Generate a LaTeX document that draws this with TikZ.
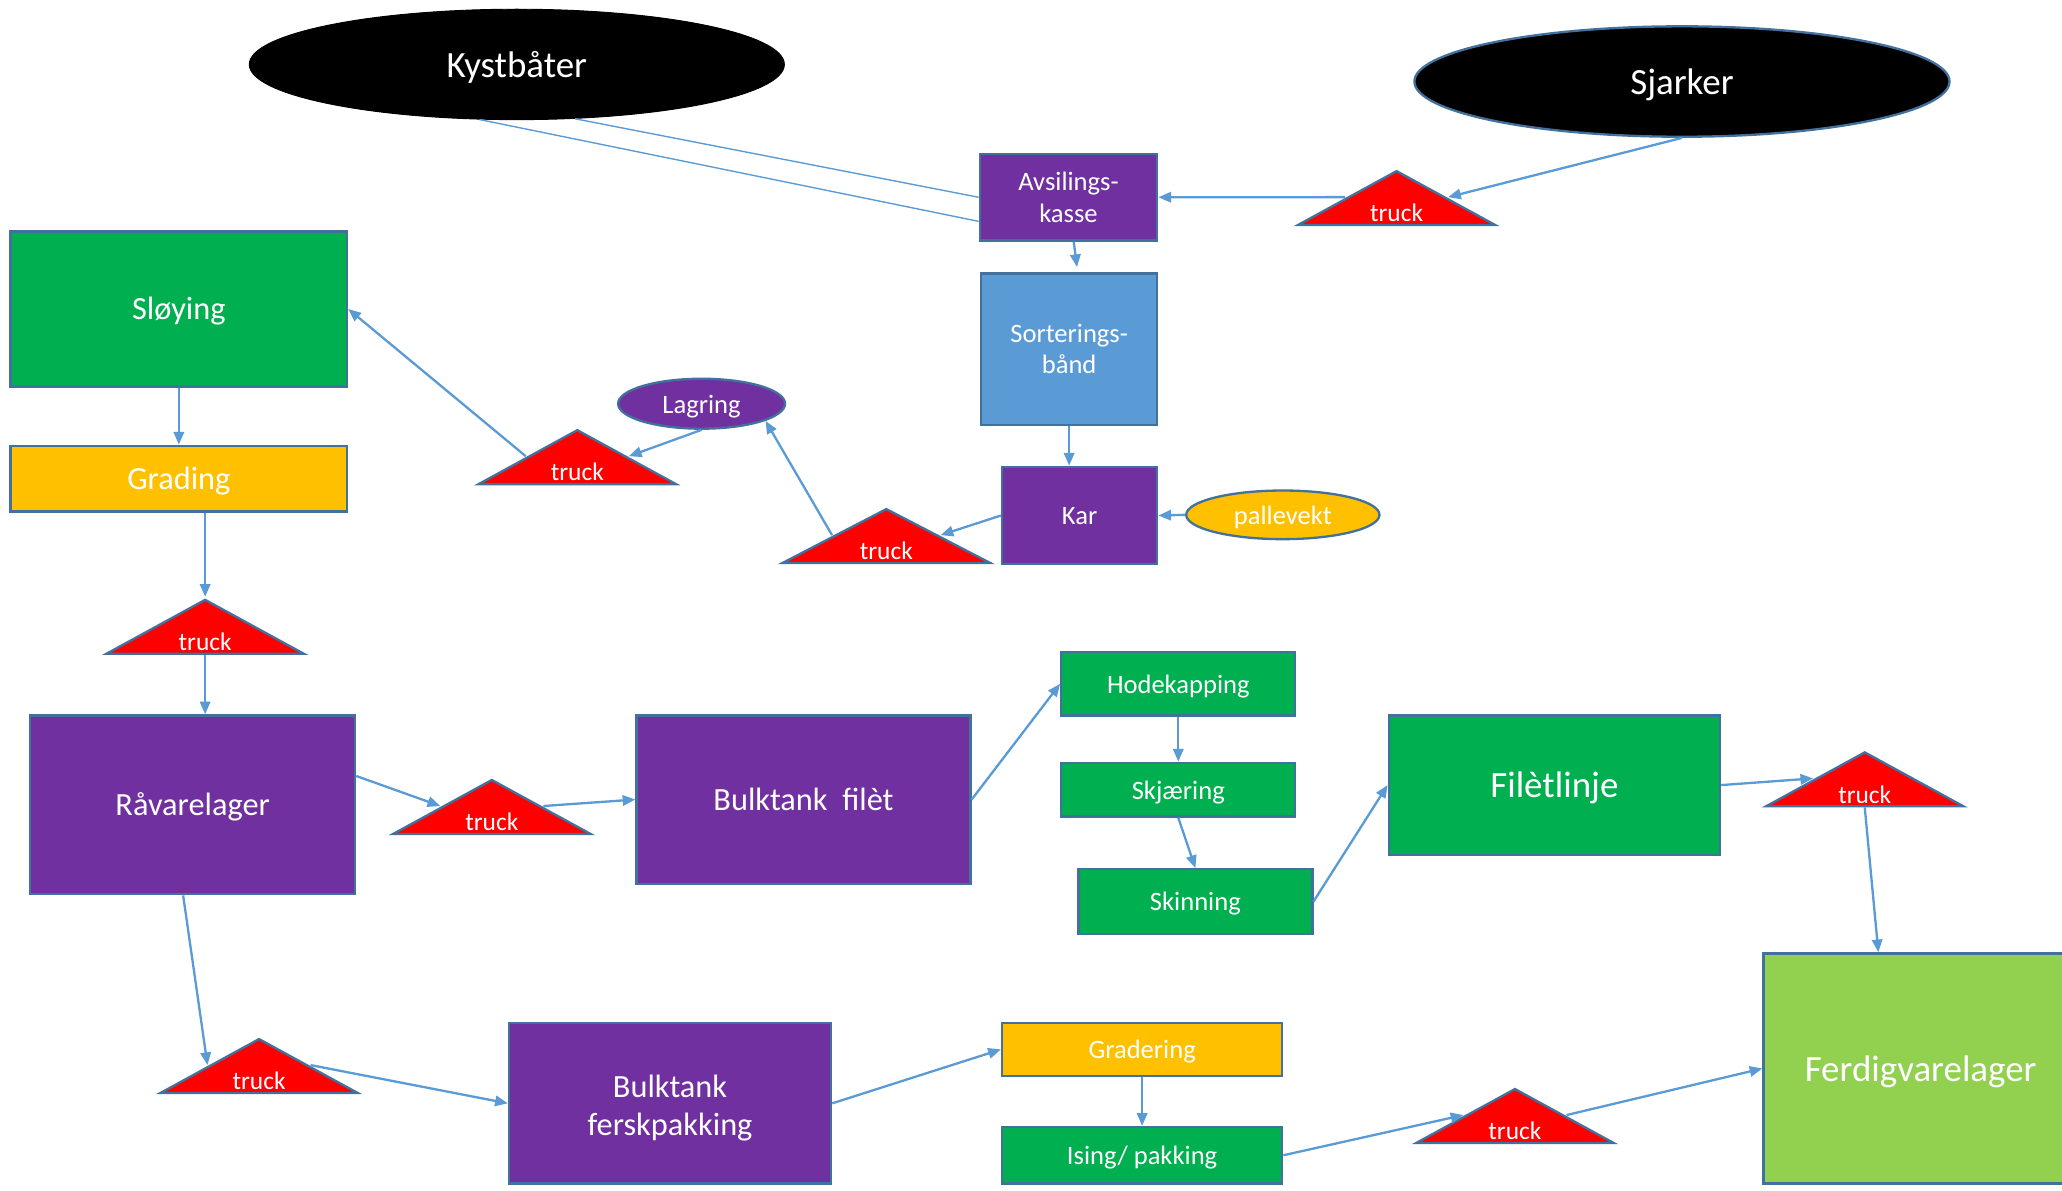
\documentclass[tikz,border=0pt]{standalone}
\usepackage{fontspec}
\setmainfont{Carlito}
\usetikzlibrary{shapes.geometric, % for ellipses and triangles
                calc, %for relative coord calculations
                arrows.meta, % for arrow tips
                positioning}
\definecolor{boxpurple}{HTML}{7030A0}
\definecolor{boxgreen}{HTML}{00B050}
\definecolor{boxorange}{HTML}{FFC000}
\definecolor{boxlime}{HTML}{92D050}
\definecolor{boxblue}{HTML}{5B9BD5}
\definecolor{edgeblue}{HTML}{41719C}
\definecolor{arrowblue}{HTML}{5B9BD5}

\begin{document}
\begin{tikzpicture}[x=0.02cm, y=-0.02cm,
                    box/.style={draw=edgeblue, line width=1pt, text=white, align=center, inner sep=2pt},
                    txtS/.style={font=\fontsize{11.5}{13.6}\selectfont},
                    txtM/.style={font=\fontsize{14}{16.5}\selectfont},
                    txtL/.style={font=\fontsize{16}{19}\selectfont},
                    lineS/.style={txtS, text height=10.5pt, text depth=2.3pt},
                    lineM/.style={txtM, text height=12.5pt, text depth=3.2pt},
                    lineL/.style={txtL, text height=14.5pt, text depth=3.5pt},
                    boat/.style={ellipse, fill=black, draw=black, text=white, minimum width=8.14cm, minimum height=1.68cm, lineL},
                    oval/.style={ellipse, draw=edgeblue, line width=1pt, text=white, inner sep=0pt, lineS},
                    truck/.style={isosceles triangle, isosceles triangle stretches, shape border rotate=90,
                                  fill=red, draw=edgeblue, line width=1pt, inner sep=0pt,
                                  minimum width=3cm, minimum height=0.82cm, anchor=lower side},
                    trucklabel/.style={text=white, anchor=south, inner sep=1.6pt, font=\fontsize{11}{13}\selectfont},
                    arr/.style={-{Triangle[length=5.5pt,width=4.5pt]}, line width=1pt, arrowblue},
                    plain/.style={line width=0.6pt, arrowblue}
                    ]
    \useasboundingbox (0,0) rectangle (1568,905);

    % boats
    \node[boat] (kyst) at (393,49) {Kystbåter};
    \node[boat, draw=edgeblue, line width=1pt] (sjark) at (1279,62) {Sjarker};

    % reception
    \node[box, fill=boxpurple, txtS, minimum width=2.7cm, minimum height=1.32cm]  (avs)  at (812.5,150) {Avsilings-\\kasse};
    \node[box, fill=boxblue, txtS, minimum width=2.68cm, minimum height=2.3cm]    (sort) at (813,265.5) {Sorterings-\\bånd};
    \node[box, fill=boxpurple, lineS, minimum width=2.36cm, minimum height=1.48cm] (kar)  at (821,392)   {Kar};
    \node[oval, fill=boxorange, minimum width=2.94cm, minimum height=0.74cm]      (palle) at (975.5,391.5) {pallevekt};
    \node[oval, fill=boxpurple, minimum width=2.54cm, minimum height=0.76cm]      (lagr) at (533.5,307) {Lagring};

    % left column
    \node[box, fill=boxgreen, lineM, minimum width=5.12cm, minimum height=2.36cm]  (sloy) at (136,235)   {Sløying};
    \node[box, fill=boxorange, lineM, minimum width=5.12cm, minimum height=1cm]    (grad) at (136,364)   {Grading};
    \node[box, fill=boxpurple, lineM, minimum width=4.94cm, minimum height=2.72cm] (raa)  at (146.5,612) {Råvarelager};

    % filet line
    \node[box, fill=boxpurple, lineM, minimum width=5.08cm, minimum height=2.56cm] (bfil) at (611,608)   {Bulktank~~filèt};
    \node[box, fill=boxgreen, lineS, minimum width=3.56cm, minimum height=0.96cm]  (hode) at (896,520)   {Hodekapping};
    \node[box, fill=boxgreen, lineS, minimum width=3.56cm, minimum height=0.82cm]  (skj)  at (896,600.5) {Skjæring};
    \node[box, fill=boxgreen, lineS, minimum width=3.56cm, minimum height=0.98cm]  (skin) at (909,685.5) {Skinning};
    \node[box, fill=boxgreen, lineL, minimum width=5.04cm, minimum height=2.12cm]  (filet) at (1182,597) {Filètlinje};

    % fresh line
    \node[box, fill=boxpurple, txtM, minimum width=4.9cm, minimum height=2.44cm]  (bfersk) at (509.5,839) {\rule{0pt}{14pt}Bulktank\\ferskpakking};
    \node[box, fill=boxorange, lineS, minimum width=4.26cm, minimum height=0.8cm]  (gradr)  at (868.5,798) {Gradering};
    \node[box, fill=boxgreen, lineS, minimum width=4.26cm, minimum height=0.86cm]  (ising)  at (868.5,878.5) {Ising/ pakking};
    \node[box, fill=boxlime, lineL, minimum width=4.78cm, minimum height=3.5cm]    (fvl)    at (1460.5,812.5) {Ferdigvarelager};

    % trucks
    \node[truck] (tr1) at (1062,172) {};
    \node[trucklabel] (trl1) at (tr1.lower side) {truck};
    \node[truck] (tr2) at (439,369) {};
    \node[trucklabel] (trl2) at (tr2.lower side) {truck};
    \node[truck, minimum width=3.16cm] (tr3) at (674,429) {};
    \node[trucklabel] (trl3) at (tr3.lower side) {truck};
    \node[truck] (tr4) at (156,498) {};
    \node[trucklabel] (trl4) at (tr4.lower side) {truck};
    \node[truck] (tr5) at (374,635) {};
    \node[trucklabel] (trl5) at (tr5.lower side) {truck};
    \node[truck] (tr6) at (1418,614) {};
    \node[trucklabel] (trl6) at (tr6.lower side) {truck};
    \node[truck] (tr7) at (197,832) {};
    \node[trucklabel] (trl7) at (tr7.lower side) {truck};
    \node[truck] (tr8) at (1152,870) {};
    \node[trucklabel] (trl8) at (tr8.lower side) {truck};

    % from the boats
    \draw[plain] (kyst.-43)  -- (avs.west);
    \draw[plain] (kyst.-124) -- (avs.-165);
    \draw[arr] (sjark.south)   -- (tr1.right side);
    \draw[arr] (tr1.left side) -- (avs.east);

    % reception to storage
    \draw[arr] ($(avs.south)+(4,0)$) -- ($(sort.north)+(6,-4)$);
    \draw[arr] (sort.south)    -- (sort.south |- kar.north);
    \draw[arr] (palle.west)    -- (kar.east);
    \draw[arr] (kar.west)      -- (tr3.right side);
    \draw[arr] (tr3.left side) -- (lagr.-15);
    \draw[arr] (lagr.south)    -- (tr2.right side);
    \draw[arr] (tr2.left side) -- (sloy.east);
    \draw[arr] (sloy.south)    -- (grad.north);
    \draw[arr] (grad.south -| tr4.apex) -- (tr4.apex);
    \draw[arr] (tr4.lower side) -- (tr4.lower side |- raa.north);

    % filet line
    \draw[arr] (raa.10)        -- (tr5.left side);
    \draw[arr] (tr5.right side) -- (bfil.west);
    \draw[arr] (bfil.east)     -- (hode.west);
    \draw[arr] (hode.south)    -- (skj.north);
    \draw[arr] (skj.south)     -- (skin.north);
    \draw[arr] (skin.east)     -- (filet.west);
    \draw[arr] (filet.east)    -- (tr6.left side);
    \draw[arr] (tr6.lower side) -- (fvl.110);

    % fresh line
    \draw[arr] (raa.-96)       -- (tr7.left side);
    \draw[arr] (tr7.right side) -- (bfersk.west);
    \draw[arr] (bfersk.east)   -- (gradr.west);
    \draw[arr] (gradr.south)   -- (ising.north);
    \draw[arr] (ising.east)    -- (tr8.left side);
    \draw[arr] (tr8.right side) -- (fvl.west);

\end{tikzpicture}
\end{document}
